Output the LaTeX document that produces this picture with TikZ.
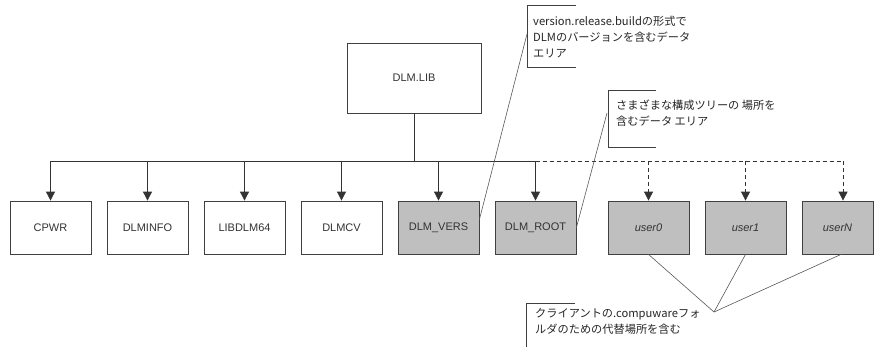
\documentclass[tikz,border=0pt]{standalone}
\usepackage{fontspec}
\setmainfont{Liberation Sans}
\newfontfamily\jp{Noto Sans CJK JP}
\usetikzlibrary{arrows.meta,calc}
\tikzset{
  box/.style={draw=black!75, line width=0.8pt, minimum width=81pt, minimum height=53pt,
    inner sep=0pt, font=\fontsize{11}{13}\selectfont, text=black!80},
  gbox/.style={box, fill=black!25},
  conn/.style={draw=black!80, line width=0.8pt},
  arr/.style={conn, -{Triangle[width=9pt,length=9pt]}},
  darr/.style={arr, dash pattern=on 4pt off 3pt},
  leader/.style={draw=black!65, line width=0.6pt},
  bracket/.style={draw=black!75, line width=0.8pt},
  ctext/.style={anchor=base west, inner sep=0pt, font=\jp\fontsize{11.2}{13}\selectfont, text=black!85}
}
\begin{document}
\begin{tikzpicture}[x=1pt,y=-1pt]
\useasboundingbox (0,0) rectangle (874,346);
\clip (0,0) rectangle (874,346);
\fill[white] (0,0) rectangle (874,346);

% top box
\node[box, minimum width=134pt, minimum height=70pt] (lib) at (414,78) {DLM.LIB};

% bottom boxes
\node[box]  (cpwr) at (50.5,227.5) {CPWR};
\node[box]  (info) at (147.5,227.5) {DLMINFO};
\node[box]  (l64)  at (244.5,227.5) {LIBDLM64};
\node[box]  (cv)   at (341.5,227.5) {DLMCV};
\node[gbox] (vers) at (438.5,227.5) {DLM\_VERS};
\node[gbox] (root) at (535.5,227.5) {DLM\_ROOT};
\node[gbox] (u0)   at (648.5,227.5) {\itshape user0};
\node[gbox] (u1)   at (745.5,227.5) {\itshape user1};
\node[gbox, minimum width=71pt] (un) at (837.5,227.5) {\itshape userN};

% bus
\coordinate (bus) at (414,161);
\coordinate (unTop) at ($(un.north)+(5.5,0)$);
\draw[conn] (lib.south) -- (lib.south |- bus);
\draw[conn] (cpwr.north |- bus) -- (root.north |- bus);
\draw[conn, dash pattern=on 4pt off 3pt] (root.north |- bus) -- (unTop |- bus);

\foreach \n in {cpwr,info,l64,cv,vers,root}
  \draw[arr] (\n.north |- bus) -- (\n.north);
\foreach \n in {u0,u1}
  \draw[darr] (\n.north |- bus) -- (\n.north);
\draw[darr] (unTop |- bus) -- (unTop);

% callout 1
\coordinate (c1a) at (576,5);
\coordinate (c1b) at (527,5);
\coordinate (c1c) at (527,67);
\coordinate (c1d) at (576,67);
\coordinate (c1m) at (527,34);
\draw[bracket] (c1a) -- (c1b) -- (c1c) -- (c1d);
\node[ctext] (t1a) at (533,25) {version.release.buildの形式で};
\node[ctext] (t1b) at (533,41) {DLMのバージョンを含むデータ};
\node[ctext] (t1c) at (533,57) {エリア};
\draw[leader] ($(vers.east)+(0,-8)$) -- (c1m);

% callout 2
\coordinate (c2a) at (656,90);
\coordinate (c2b) at (608,90);
\coordinate (c2c) at (608,147);
\coordinate (c2d) at (656,147);
\coordinate (c2m) at (607,113);
\draw[bracket] (c2a) -- (c2b) -- (c2c) -- (c2d);
\node[ctext] (t2a) at (616,109.5) {さまざまな構成ツリーの 場所を};
\node[ctext] (t2b) at (616,125.5) {含むデータ エリア};
\draw[leader] (root.east) -- (c2m);

% callout 3
\coordinate (c3a) at (575,303);
\coordinate (c3b) at (526,303);
\coordinate (c3c) at (526,360);
\coordinate (c3m) at (714,312);
\draw[bracket] (c3a) -- (c3b) -- (c3c);
\node[ctext] (t3a) at (535,317) {クライアントの.compuwareフォ};
\node[ctext] (t3b) at (535,333) {ルダのための代替場所を含む};
\draw[leader] (u0.south) -- (c3m);
\draw[leader] (u1.south) -- (c3m);
\draw[leader] ($(un.south)+(3.5,0)$) -- (c3m);
\end{tikzpicture}
\end{document}
